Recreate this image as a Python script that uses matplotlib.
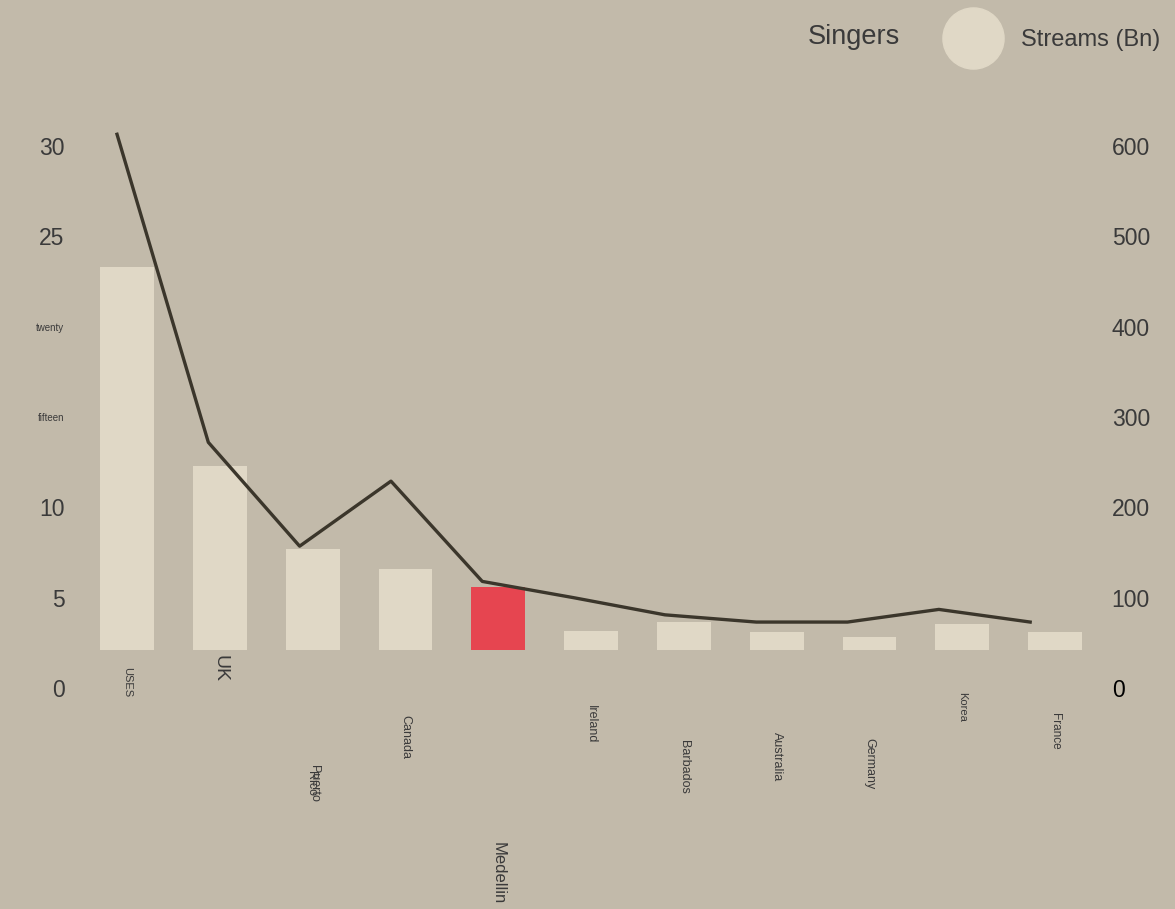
import matplotlib.pyplot as plt
from matplotlib.lines import Line2D
from matplotlib.transforms import blended_transform_factory

plt.rcParams['font.family'] = ['Liberation Sans', 'DejaVu Sans']

# data
countries = ['USES', 'UK', 'Puerto\nRico', 'Canada', 'Medellin', 'Ireland',
             'Barbados', 'Australia', 'Germany', 'Korea', 'France']
streams = [21.2, 10.2, 5.6, 4.5, 3.5, 1.05, 1.55, 1.0, 0.72, 1.45, 1.0]
singers = [613, 272, 157, 229, 118, 100, 81, 73, 73, 87, 73]
left_ticks = [0, 5, 10, 15, 20, 25, 30]
left_labels = ['0', '5', '10', 'fifteen', 'twenty', '25', '30']
right_ticks = [0, 100, 200, 300, 400, 500, 600]

# styles
bg = '#c2baaa'
bar_col = '#e0d8c6'
hi_col = '#e64550'
line_col = '#3b362b'
txt_col = '#3a3a3a'
label_sizes = [8, 14, 9, 9, 12, 9, 9, 9, 9, 8, 8.5]
label_tops = [667, 655, 765, 715, 842, 705, 740, 732, 738, 692, 713]  # px from top

W, H = 1175, 909
fig = plt.figure(figsize=(W / 100, H / 100), dpi=100, facecolor=bg)
rect = [95 / W, 1 - 688 / H, 1000 / W, 568 / H]

# bars axis
axb = fig.add_axes(rect)
axb.set_facecolor('none')
axb.axis('off')
xs = list(range(len(countries)))
colors = [hi_col if c == 'Medellin' else bar_col for c in countries]
axb.bar(xs, streams, width=0.58, color=colors)
axb.set_xlim(-0.345, 10.43)
axb.set_ylim(-2.1, 29.33)

# x labels (rotated)
tr = blended_transform_factory(axb.transData, fig.transFigure)
for x, lab, fs, top in zip(xs, countries, label_sizes, label_tops):
    axb.text(x, 1 - top / H, lab, transform=tr, rotation=-90, ha='center',
             va='top', fontsize=fs, color=txt_col, linespacing=0.05,
             clip_on=False)

# left axis
ax = fig.add_axes(rect)
ax.set_facecolor('none')
ax.set_xlim(-0.241, 10.71)
ax.set_ylim(0, 31.44)
ax.set_yticks(left_ticks)
ax.set_yticklabels(left_labels)
for t in ax.get_yticklabels():
    t.set_fontsize(7 if t.get_text() in ('twenty', 'fifteen') else 16.5)
    t.set_color(txt_col)
ax.tick_params(axis='y', length=0, pad=22)
ax.set_xticks([])
for s in ax.spines.values():
    s.set_visible(False)

# right axis + line
ax2 = ax.twinx()
ax2.set_facecolor('none')
ax2.plot(xs, singers, color=line_col, lw=2.4, clip_on=False)
ax2.set_ylim(0, 628.8)
ax2.set_yticks(right_ticks)
ax2.tick_params(axis='y', length=0, pad=12, labelsize=16.5, labelcolor=txt_col)
ax2.get_yticklabels()[0].set_color('black')
for s in ax2.spines.values():
    s.set_visible(False)

# legend
fig.text(808 / W, 1 - 37 / H, 'Singers', fontsize=19.5, color=txt_col,
         ha='left', va='center')
handle = Line2D([], [], marker='o', ls='', ms=44, color=bar_col)
fig.legend(handles=[handle], labels=['Streams (Bn)'], loc='center left',
           bbox_to_anchor=(955 / W, 1 - 40 / H), frameon=False, fontsize=17,
           labelcolor=txt_col, handlelength=1.5, handletextpad=1.3,
           borderpad=0, borderaxespad=0)

fig.savefig('out.png', dpi=100, facecolor=bg)
